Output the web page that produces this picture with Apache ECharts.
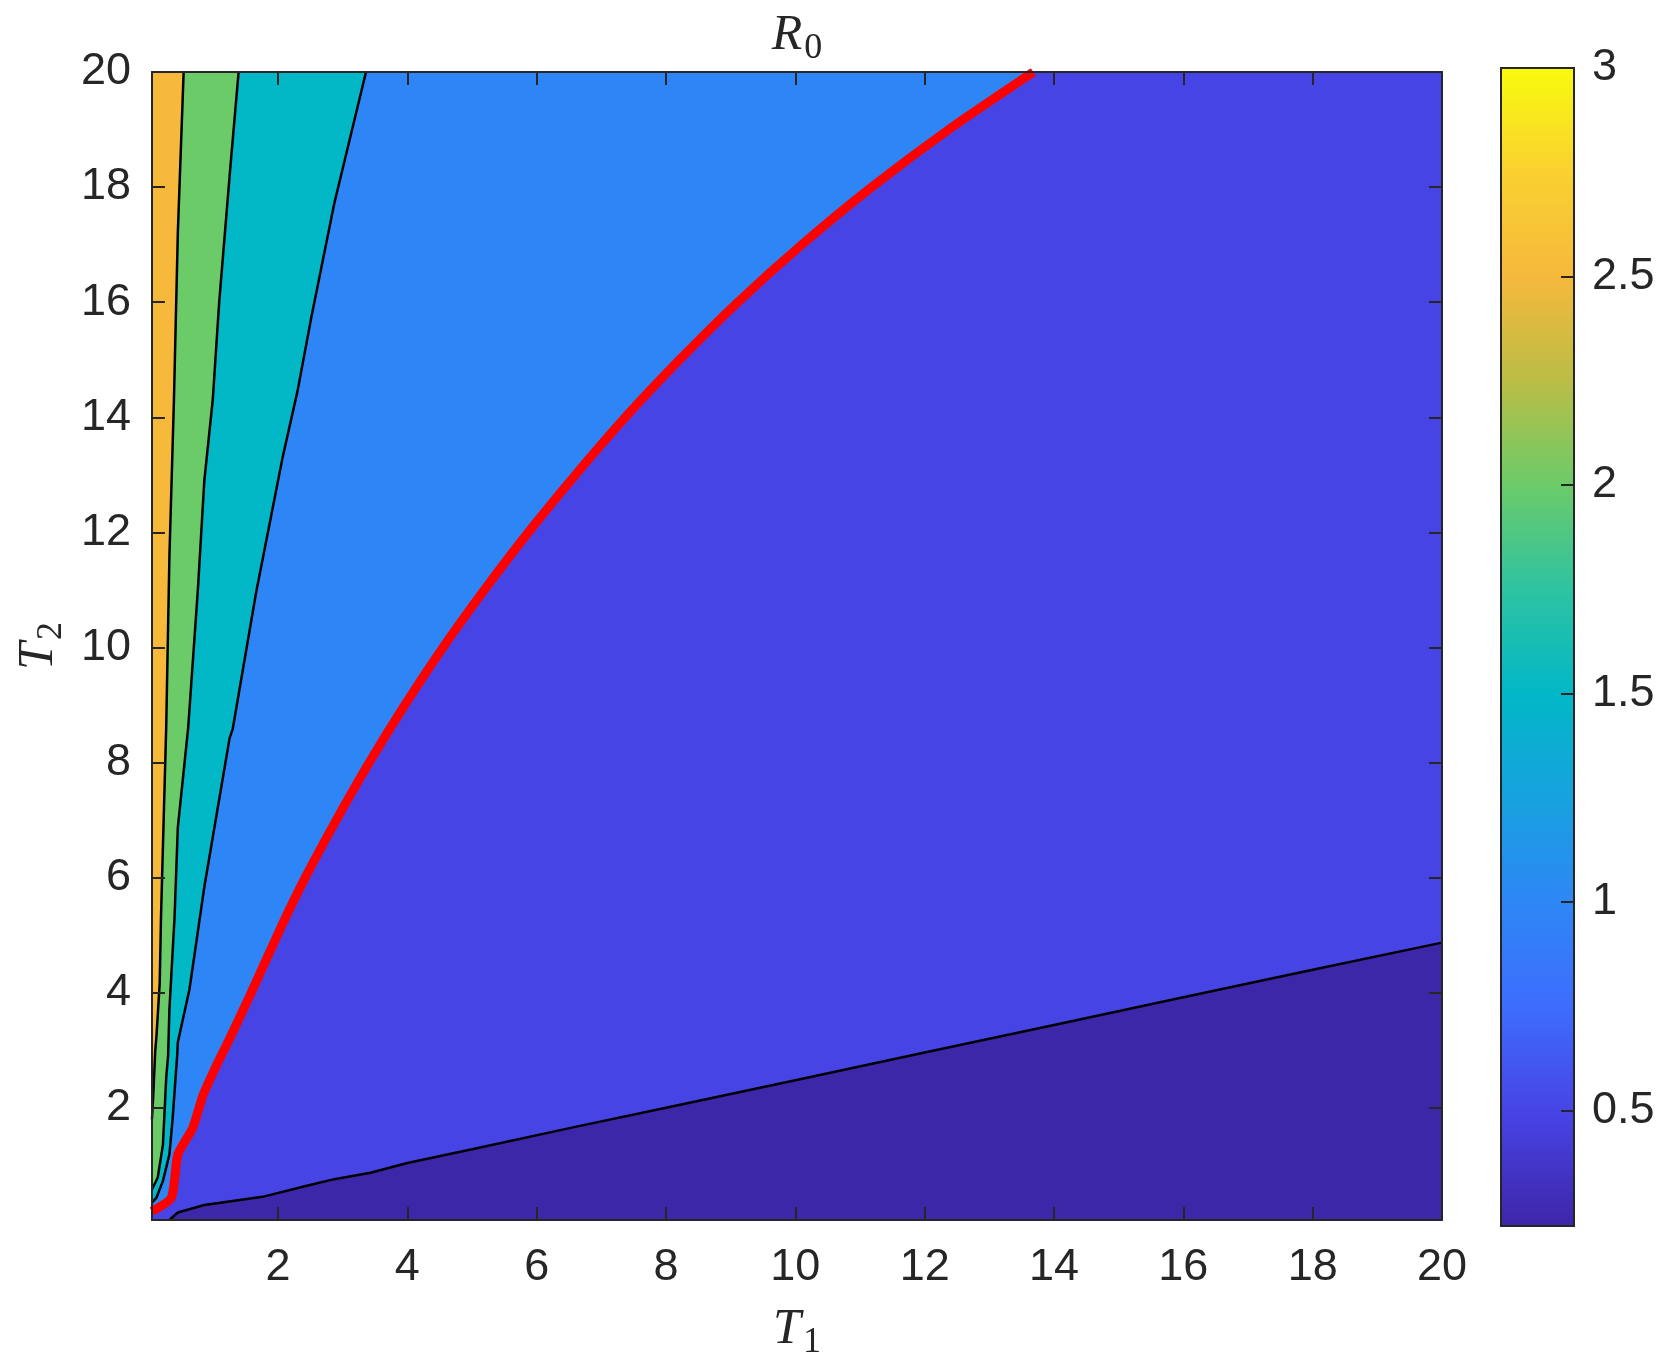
<!DOCTYPE html>
<html><head><meta charset="utf-8">
<script src="https://cdn.jsdelivr.net/npm/echarts@6/dist/echarts.min.js"></script>
<style>html,body{margin:0;padding:0;background:#fff}#c{width:1658px;height:1366px}</style>
</head><body><div id="c"></div>
<script>
// ---- axis ranges and ticks ----
const T_MIN = 0.05, T_MAX = 20;
const xTicks = [2, 4, 6, 8, 10, 12, 14, 16, 18, 20];
const yTicks = [2, 4, 6, 8, 10, 12, 14, 16, 18, 20];
const cbTicks = [0.5, 1, 1.5, 2, 2.5, 3];
const cbRange = [0.2224, 3];
const contourLevels = [0.5, 1, 1.5, 2, 2.5];

// ---- contour lines: [T1, T2] ----
const contour05 = [[0.32,0.05],[0.45,0.18],[0.86,0.31],[1.79,0.46],[2.46,0.65],[2.87,0.76],[3.43,0.87],[4.0,1.04],[5.0,1.28],[6.56,1.66],[8,2.0],[10,2.48],[12,2.96],[14,3.44],[16,3.92],[18,4.4],[20,4.87]];
const contour10 = [[0.05,0.2],[0.35,0.44],[0.45,1.19],[0.68,1.65],[0.84,2.22],[1.07,2.79],[1.25,3.2],[1.56,3.94],[2.05,5.15],[2.42,6.0],[2.9,7.0],[3.41,8.0],[3.96,9.0],[4.55,10.0],[5.19,11.0],[5.87,12.0],[6.6,13.0],[7.37,14.0],[8.21,15.0],[9.11,16.0],[10.1,17.0],[11.18,18.0],[12.37,19.0],[13.68,20.0]];
const contour15 = [[0.05,0.35],[0.12,0.44],[0.22,0.73],[0.32,1.19],[0.37,1.82],[0.44,2.91],[0.45,3.14],[0.63,4.06],[0.86,5.84],[1.25,8.42],[1.3,8.59],[1.66,10.95],[2.07,13.3],[2.3,14.45],[2.51,15.71],[2.87,17.72],[3.36,20]];
const contour20 = [[0.05,0.58],[0.14,0.79],[0.22,1.36],[0.27,2.51],[0.3,2.91],[0.32,3.71],[0.4,5.32],[0.45,6.87],[0.61,8.6],[0.76,11.0],[0.86,12.9],[0.99,14.3],[1.09,16.0],[1.25,18.18],[1.39,20]];
const contour25 = [[0.05,1.8],[0.07,2.22],[0.1,2.97],[0.12,3.25],[0.17,4.17],[0.19,5.32],[0.27,8.6],[0.32,11.58],[0.39,14.3],[0.45,17.2],[0.54,20]];

// ---- styles ----
const fillColors = ['#3c27a8', '#4744e6', '#2e86f6', '#02b8c7', '#6ccb69', '#f6b93c'];
const parulaStops = [
  [0.00,'#3e26a8'],[0.10,'#4744e6'],[0.19,'#3d6dfd'],[0.28,'#2e87f5'],[0.37,'#17a2de'],
  [0.46,'#02b8c7'],[0.55,'#2ec3a1'],[0.64,'#6ccb69'],[0.73,'#bbbd45'],[0.82,'#f6b93c'],
  [0.91,'#f9d130'],[1.00,'#f9fb0e']
];
const axisColor = '#262626';

// filled regions (value >= level lies up/left of each contour)
const regions = [
  [[T_MIN,T_MIN],[T_MAX,T_MIN],[T_MAX,T_MAX],[T_MIN,T_MAX]],
  contour05.concat([[T_MAX,T_MAX],[T_MIN,T_MAX],[T_MIN,T_MIN]]),
  contour10.concat([[T_MIN,T_MAX]]),
  contour15.concat([[T_MIN,T_MAX]]),
  contour20.concat([[T_MIN,T_MAX]]),
  contour25.concat([[T_MIN,T_MAX]])
];

const labelFont = { fontFamily: '"Liberation Sans", Arial, sans-serif', fontSize: 45, color: axisColor };
const mathRich = {
  t: { fontFamily: '"Liberation Serif", "DejaVu Serif", serif', fontStyle: 'italic', fontSize: 50, lineHeight: 56, color: axisColor },
  s: { fontFamily: '"Liberation Serif", "DejaVu Serif", serif', fontSize: 36, lineHeight: 36, padding: [26, 0, 0, 2], color: axisColor }
};
const lineSt = { color: axisColor, width: 2 };

const chart = echarts.init(document.getElementById('c'), null, { renderer: 'canvas' });
chart.setOption({
  animation: false,
  backgroundColor: '#ffffff',
  grid: [
    { left: 149, top: 68, width: 1293, height: 1158 },
    { left: 1501, top: 68, width: 73, height: 1158 }
  ],
  xAxis: [
    { type: 'value', gridIndex: 0, min: T_MIN, max: T_MAX, position: 'bottom', z: 10,
      axisLine: { show: true, onZero: false, lineStyle: lineSt },
      axisTick: { show: true, inside: true, length: 13, customValues: xTicks, lineStyle: lineSt },
      axisLabel: Object.assign({ customValues: xTicks, margin: 25 }, labelFont),
      splitLine: { show: false },
      name: '{t|T}{s|1}', nameLocation: 'middle', nameGap: 82, nameTextStyle: { rich: mathRich } },
    { type: 'value', gridIndex: 0, min: T_MIN, max: T_MAX, position: 'top', z: 10,
      axisLine: { show: true, onZero: false, lineStyle: lineSt },
      axisTick: { show: true, inside: true, length: 13, customValues: xTicks, lineStyle: lineSt },
      axisLabel: { show: false }, splitLine: { show: false },
      name: '{t|R}{s|0}', nameLocation: 'middle', nameGap: 8, nameTextStyle: { rich: mathRich } },
    { type: 'value', gridIndex: 1, min: 0, max: 1, show: false }
  ],
  yAxis: [
    { type: 'value', gridIndex: 0, min: T_MIN, max: T_MAX, position: 'left', z: 10,
      axisLine: { show: true, onZero: false, lineStyle: lineSt },
      axisTick: { show: true, inside: true, length: 13, customValues: yTicks, lineStyle: lineSt },
      axisLabel: Object.assign({ customValues: yTicks, margin: 21 }, labelFont),
      splitLine: { show: false },
      name: '{t|T}{s|2}', nameLocation: 'middle', nameGap: 84, nameTextStyle: { rich: mathRich } },
    { type: 'value', gridIndex: 0, min: T_MIN, max: T_MAX, position: 'right', z: 10,
      axisLine: { show: true, onZero: false, lineStyle: lineSt },
      axisTick: { show: true, inside: true, length: 13, customValues: yTicks, lineStyle: lineSt },
      axisLabel: { show: false }, splitLine: { show: false } },
    { type: 'value', gridIndex: 1, min: cbRange[0], max: cbRange[1], position: 'right', z: 10,
      axisLine: { show: true, onZero: false, lineStyle: lineSt },
      axisTick: { show: true, inside: true, length: 13, customValues: cbTicks, lineStyle: lineSt },
      axisLabel: Object.assign({ customValues: cbTicks, margin: 18 }, labelFont),
      splitLine: { show: false } }
  ],
  series: [
    { type: 'custom', xAxisIndex: 0, yAxisIndex: 0, silent: true, z: 1,
      data: regions.map(r => r[0]),
      renderItem: function (params, api) {
        const pts = regions[params.dataIndex].map(p => api.coord(p));
        return { type: 'polygon', shape: { points: pts }, style: { fill: fillColors[params.dataIndex], stroke: fillColors[params.dataIndex], lineWidth: 0.5 } };
      } },
    ...[contour05, contour15, contour20, contour25].map(c => ({
      type: 'line', xAxisIndex: 0, yAxisIndex: 0, data: c, showSymbol: false, silent: true, z: 3,
      lineStyle: { color: '#000000', width: 2.5 }
    })),
    { type: 'line', xAxisIndex: 0, yAxisIndex: 0, data: contour10, showSymbol: false, silent: true, z: 4,
      smooth: 0.2, lineStyle: { color: '#ff0000', width: 9 } },
    { type: 'custom', xAxisIndex: 2, yAxisIndex: 2, silent: true, z: 1,
      data: [[0, cbRange[0]]],
      renderItem: function (params, api) {
        const p0 = api.coord([0, cbRange[1]]);
        const p1 = api.coord([1, cbRange[0]]);
        const stops = parulaStops.map(s => ({ offset: 1 - s[0], color: s[1] })).reverse();
        return { type: 'rect', shape: { x: p0[0], y: p0[1], width: p1[0] - p0[0], height: p1[1] - p0[1] },
          style: { fill: new echarts.graphic.LinearGradient(0, 0, 0, 1, stops), stroke: axisColor, lineWidth: 2 } };
      } }
  ]
});
</script></body></html>
